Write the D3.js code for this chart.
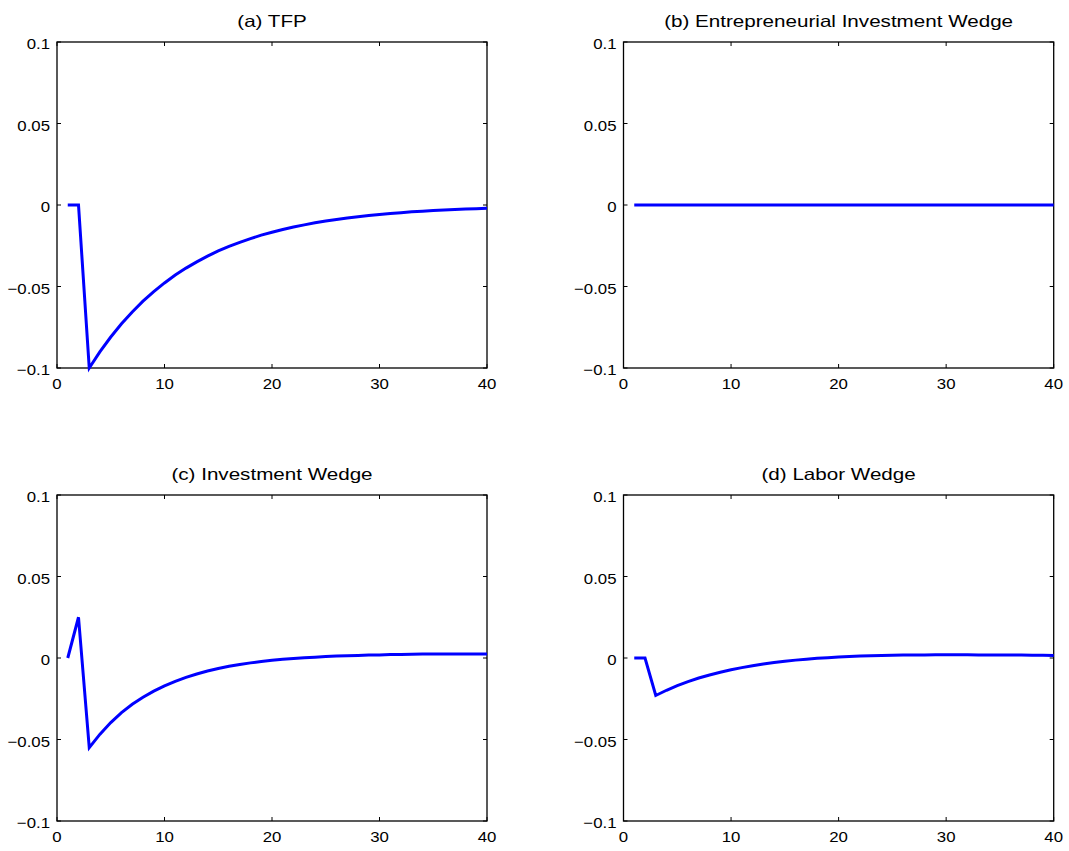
<!DOCTYPE html>
<html><head><meta charset="utf-8">
<script src="https://cdn.jsdelivr.net/npm/d3@7"></script>
<style>body{margin:0;background:#fff;} text{font-family:"Liberation Sans",Arial,sans-serif;}</style>
</head><body>
<svg id="c" width="1069" height="851"></svg>
<script>
const periods = d3.range(1, 41);
const titles = ["(a) TFP", "(b) Entrepreneurial Investment Wedge", "(c) Investment Wedge", "(d) Labor Wedge"];
const tfp = [0, 0, -0.1, -0.09, -0.081, -0.0729, -0.0656, -0.059, -0.0531, -0.0478, -0.043, -0.0387, -0.0349, -0.0314, -0.0282, -0.0254, -0.0229, -0.0206, -0.0185, -0.0167, -0.015, -0.0135, -0.0122, -0.0109, -0.0098, -0.0089, -0.008, -0.0072, -0.0065, -0.0058, -0.0052, -0.0047, -0.0042, -0.0038, -0.0034, -0.0031, -0.0028, -0.0025, -0.0023, -0.002];
const entWedge = [0,0,0,0,0,0,0,0,0,0,0,0,0,0,0,0,0,0,0,0,0,0,0,0,0,0,0,0,0,0,0,0,0,0,0,0,0,0,0,0];
const invWedge = [0, 0.025, -0.055, -0.0467, -0.0396, -0.0335, -0.0284, -0.0241, -0.0203, -0.0171, -0.0143, -0.0119, -0.0098, -0.008, -0.0064, -0.0051, -0.004, -0.003, -0.0021, -0.0014, -0.0008, -0.0003, 0.0001, 0.0005, 0.0009, 0.0012, 0.0014, 0.0016, 0.0018, 0.0019, 0.0021, 0.0022, 0.0023, 0.0024, 0.0024, 0.0025, 0.0025, 0.0025, 0.0025, 0.0025];
const labWedge = [0, 0, -0.023, -0.0198, -0.017, -0.0145, -0.0123, -0.0104, -0.0087, -0.0072, -0.0059, -0.0047, -0.0037, -0.0028, -0.002, -0.0013, -0.0007, -0.0002, 0.0002, 0.0006, 0.0009, 0.0012, 0.0014, 0.0016, 0.0017, 0.0018, 0.0019, 0.0019, 0.002, 0.002, 0.002, 0.002, 0.0019, 0.0019, 0.0019, 0.0018, 0.0018, 0.0017, 0.0017, 0.0016];
const series = [tfp, entWedge, invWedge, labWedge];
const xTicks = [0, 10, 20, 30, 40];
const yTicks = [-0.1, -0.05, 0, 0.05, 0.1];

const svg = d3.select("#c");
const lefts = [57, 623.5], rights = [487, 1053.7];
const tops = [42, 495], bottoms = [368, 821];
const fmt = v => String(+v.toFixed(3)).replace("-", "\u2212");

function label(g, x, y, txt, size, sx, anchor) {
  g.append("text").attr("transform", `translate(${x},${y}) scale(${sx},1)`)
    .attr("text-anchor", anchor).attr("font-size", size).text(txt);
}

series.forEach((vals, i) => {
  const col = i % 2, row = Math.floor(i / 2);
  const x = d3.scaleLinear().domain([0, 40]).range([lefts[col], rights[col]]);
  const y = d3.scaleLinear().domain([-0.1, 0.1]).range([bottoms[row], tops[row]]);
  const g = svg.append("g");
  const tl = 4;
  xTicks.forEach(t => {
    g.append("line").attr("x1", x(t)).attr("x2", x(t)).attr("y1", y.range()[0]).attr("y2", y.range()[0] - tl).attr("stroke", "#000");
    g.append("line").attr("x1", x(t)).attr("x2", x(t)).attr("y1", y.range()[1]).attr("y2", y.range()[1] + tl).attr("stroke", "#000");
    label(g, x(t), y.range()[0] + 21, t, 15, 1.12, "middle");
  });
  yTicks.forEach(t => {
    g.append("line").attr("x1", x.range()[0]).attr("x2", x.range()[0] + tl).attr("y1", y(t)).attr("y2", y(t)).attr("stroke", "#000");
    g.append("line").attr("x1", x.range()[1]).attr("x2", x.range()[1] - tl).attr("y1", y(t)).attr("y2", y(t)).attr("stroke", "#000");
    label(g, x.range()[0] - 7, y(t) + 7.3, fmt(t), 15, 1.12, "end");
  });
  g.append("rect").attr("x", x.range()[0]).attr("y", y.range()[1]).attr("width", x.range()[1] - x.range()[0]).attr("height", y.range()[0] - y.range()[1])
    .attr("fill", "none").attr("stroke", "#000").attr("stroke-width", 1.3);
  const line = d3.line().x((d, j) => x(periods[j])).y(d => y(d));
  g.append("path").datum(vals).attr("d", line).attr("fill", "none").attr("stroke", "#0000ff").attr("stroke-width", 3).attr("stroke-linejoin", "miter");
  label(g, (x.range()[0] + x.range()[1]) / 2, tops[row] - 15, titles[i], 16.5, 1.25, "middle");
});
</script>
</body></html>
